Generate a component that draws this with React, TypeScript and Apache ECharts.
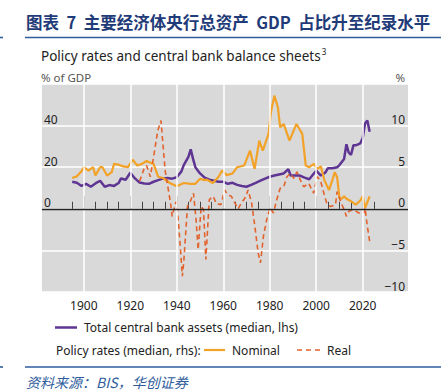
import React, { useEffect, useRef } from "react";
import * as echarts from "echarts";

const FONT = '"Noto Sans", "Open Sans", sans-serif';
const CJK = '"Noto Sans CJK SC", sans-serif';

const titleText = "图表  7  主要经济体央行总资产  GDP  占比升至纪录水平";
const subtitleText = "Policy rates and central bank balance sheets";
const sourceText = "资料来源：BIS，华创证券";

const xLabelYears = [1900, 1920, 1940, 1960, 1980, 2000, 2020];
const minorTickYears = [1895, 1905, 1910, 1915, 1925, 1930, 1935, 1945, 1950, 1955, 1965, 1970, 1975, 1985, 1990, 1995, 2005, 2010, 2015, 2025];
const leftLabels = [0, 20, 40];
const rightLabels = [-10, -5, 0, 5, 10];

const assetYears = [1895, 1897, 1899, 1901, 1903, 1905, 1907, 1909, 1911, 1913, 1915, 1916, 1918, 1920, 1922, 1924, 1926, 1928, 1930, 1932, 1934, 1936, 1938, 1940, 1942, 1943, 1945, 1946, 1947, 1948, 1950, 1952, 1954, 1956, 1958, 1960, 1962, 1964, 1966, 1968, 1970, 1972, 1974, 1976, 1978, 1980, 1982, 1984, 1986, 1988, 1989, 1991, 1993, 1995, 1997, 1999, 2000, 2002, 2004, 2005, 2007, 2009, 2010, 2011, 2012, 2013, 2014, 2015, 2016, 2017, 2018, 2019, 2020, 2021, 2022, 2023];
const assetValues = [13, 12.5, 11, 12, 10.6, 12.2, 13.5, 10.6, 11.4, 11, 12.4, 14.6, 14, 17.3, 14.6, 12.6, 12.2, 12, 13, 13.8, 14.5, 14.8, 14.5, 15.2, 18, 21, 25, 28.6, 24, 20, 17, 15, 14, 13.5, 13, 13, 12, 12.5, 11.5, 11, 10.6, 11.5, 12.5, 13.5, 14.5, 15.4, 16, 16.5, 17, 19, 16, 16, 16, 15, 14.2, 17, 18.3, 16, 17.5, 19.5, 19.5, 20, 21, 22.5, 24, 31, 27, 26, 30.5, 30.5, 31, 31.5, 34, 41, 42.5, 37];

const nominalYears = [1895, 1897, 1899, 1900, 1902, 1904, 1905, 1907, 1908, 1910, 1912, 1913, 1915, 1917, 1919, 1921, 1923, 1925, 1927, 1929, 1930, 1932, 1934, 1937, 1940, 1943, 1946, 1948, 1950, 1952, 1953, 1955.5, 1958, 1959.5, 1961.5, 1964, 1966, 1969, 1971.5, 1973.5, 1975.5, 1977, 1979.5, 1980.5, 1982, 1983.5, 1984.5, 1986, 1988.5, 1991.5, 1994, 1995.5, 1997, 1999, 2000.5, 2002, 2003.5, 2005.5, 2007, 2008, 2009, 2010, 2011, 2012, 2013, 2015, 2017, 2019, 2020, 2021, 2023];
const nominalValues = [3.7, 3.9, 4.5, 5.0, 4.6, 5.0, 4.0, 5.0, 5.0, 4.0, 4.4, 5.4, 5.3, 5.1, 5.0, 5.9, 5.2, 5.4, 5.75, 5.5, 5.4, 3.85, 3.7, 3.1, 2.7, 3.1, 3.0, 3.0, 3.6, 3.45, 3.5, 3.1, 3.85, 4.6, 4.05, 4.25, 5.0, 5.2, 7.0, 4.8, 8.2, 7.0, 9.0, 11.6, 13.6, 12.2, 9.8, 10.2, 8.2, 10.2, 9.0, 5.2, 5.0, 5.4, 4.8, 5.1, 3.45, 2.25, 3.5, 4.4, 3.8, 1.3, 1.2, 1.5, 1.2, 0.9, 0.5, 1.0, 1.5, 0.1, 1.5];

const realYears = [1924, 1925.9, 1927, 1928.6, 1930, 1931.8, 1933.2, 1935, 1937.3, 1938, 1939.5, 1940, 1941.3, 1942.4, 1943, 1944.6, 1945.8, 1947.2, 1948.3, 1949.2, 1950.5, 1951.5, 1952.5, 1954, 1955.7, 1957, 1959, 1960.6, 1962, 1963.5, 1965, 1966.4, 1967.8, 1969.3, 1970.7, 1972.2, 1973.6, 1975, 1976, 1977.3, 1978.7, 1980.2, 1981.6, 1983, 1984.5, 1986, 1987.4, 1988.9, 1990.3, 1991.7, 1993.2, 1994.6, 1996.8, 1998.9, 2000.4, 2001.8, 2003.3, 2004.7, 2006.2, 2008.3, 2009, 2010.5, 2012, 2013, 2014, 2016, 2018.4, 2020.5, 2021, 2022, 2023.2];
const realValues = [3.3, 4.8, 5.2, 3.85, 6.2, 9.4, 10.6, 4.6, 0.7, -0.9, 0.7, 0.87, -3.7, -8.1, -6.4, 0.3, 0.87, 1.87, -1.3, -4.9, 0.3, -0.1, -6.1, 1.1, 1.5, 0.6, 0.5, 2.26, 1.67, 1.5, 0.7, 0.0, 0.7, 1.27, 2.26, 0.7, -2.1, -5.3, -6.5, -3.3, -1.3, 0.1, -0.5, 1.07, 2.46, 2.65, 3.85, 4.25, 3.65, 4.44, 3.45, 2.65, 3.06, 1.87, 3.85, 3.45, 1.87, 0.5, 0.27, 0.5, 2.06, 0.87, -0.1, -0.9, -0.3, -0.1, -0.5, -0.5, 0.1, -2.1, -4.3];

const X_MIN = 1882;
const X_MAX = 2039.5;

const PURPLE = "#5e3592";
const ORANGE = "#f2a227";
const RED = "#e2632d";
const NAVY = "#1f3b78";
const RULE = "#2f5c9c";

const zip = (xs: number[], ys: number[]) => xs.map((x, i) => [x, ys[i]]);
const fmtNum = (v: number) => (v < 0 ? "\u2212" + Math.abs(v) : String(v));

export default function App() {
  const ref = useRef<HTMLDivElement>(null);
  useEffect(() => {
    if (!ref.current) return;
    const chart = echarts.init(ref.current, undefined, { renderer: "svg" });
    const tickStyle = { color: "#444", width: 1 };
    chart.setOption({
      animation: false,
      textStyle: { fontFamily: FONT },
      grid: {
        left: 42,
        top: 84,
        width: 366,
        height: 208,
        show: true,
        backgroundColor: "#d9d9d9",
        borderWidth: 0,
        containLabel: false,
        outerBoundsMode: "none",
      },
      xAxis: [
        {
          type: "value",
          min: X_MIN,
          max: X_MAX,
          position: "bottom",
          axisLine: { show: false },
          axisTick: { show: true, inside: true, length: 13, customValues: xLabelYears, lineStyle: tickStyle },
          axisLabel: { customValues: xLabelYears, color: "#222", fontSize: 12, margin: 7, fontFamily: FONT, formatter: (v: number) => String(v) },
          splitLine: { show: false },
        },
        {
          type: "value",
          min: X_MIN,
          max: X_MAX,
          position: "bottom",
          axisLine: { show: false },
          axisTick: { show: true, inside: true, length: 7, customValues: minorTickYears, lineStyle: tickStyle },
          axisLabel: { show: false },
          splitLine: { show: false },
        },
      ],
      yAxis: [
        {
          type: "value",
          min: -40,
          max: 60,
          interval: 20,
          position: "left",
          axisLine: { show: false },
          axisTick: { show: false },
          splitLine: { show: true, lineStyle: { color: "#ffffff", width: 1.5 } },
          axisLabel: {
            inside: true,
            margin: 2,
            verticalAlign: "bottom",
            color: "#222",
            fontSize: 12,
            fontFamily: FONT,
            formatter: (v: number) => (leftLabels.includes(v) ? fmtNum(v) : ""),
          },
        },
        {
          type: "value",
          min: -10,
          max: 15,
          interval: 5,
          position: "right",
          axisLine: { show: false },
          axisTick: { show: false },
          splitLine: { show: false },
          axisLabel: {
            inside: true,
            margin: 3,
            verticalAlign: "bottom",
            color: "#222",
            fontSize: 12,
            fontFamily: FONT,
            formatter: (v: number) => (rightLabels.includes(v) ? fmtNum(v) : ""),
          },
        },
      ],
      series: [
        {
          type: "line",
          name: "gridlines",
          xAxisIndex: 0,
          yAxisIndex: 0,
          z: 1,
          silent: true,
          showSymbol: false,
          data: [[X_MIN, -40]],
          lineStyle: { opacity: 0 },
          markLine: {
            silent: true,
            symbol: "none",
            label: { show: false },
            data: [
              ...xLabelYears.map((y) => ({ xAxis: y, lineStyle: { color: "#ffffff", width: 1.5, type: "solid" } })),
              [
                { coord: [X_MIN, 0], lineStyle: { color: "#222", width: 1.3, type: "solid" } },
                { coord: [X_MAX, 0] },
              ],
            ],
          },
        },
        {
          type: "line",
          name: "Total central bank assets (median, lhs)",
          xAxisIndex: 0,
          yAxisIndex: 0,
          z: 3,
          showSymbol: false,
          data: zip(assetYears, assetValues),
          lineStyle: { color: PURPLE, width: 2.5 },
          itemStyle: { color: PURPLE },
        },
        {
          type: "line",
          name: "Nominal",
          xAxisIndex: 0,
          yAxisIndex: 1,
          z: 3,
          showSymbol: false,
          data: zip(nominalYears, nominalValues),
          lineStyle: { color: ORANGE, width: 2.2 },
          itemStyle: { color: ORANGE },
        },
        {
          type: "line",
          name: "Real",
          xAxisIndex: 0,
          yAxisIndex: 1,
          z: 3,
          showSymbol: false,
          data: zip(realYears, realValues),
          lineStyle: { color: RED, width: 1.6, type: [5, 3.5] },
          itemStyle: { color: RED },
        },
      ],
      graphic: [
        { type: "text", x: 26, y: 22, style: { text: titleText, fill: NAVY, fontSize: 16.5, fontWeight: "bold", fontFamily: CJK, verticalAlign: "middle", align: "left" } },
        { type: "line", shape: { x1: 25, y1: 37.5, x2: 441, y2: 37.5 }, style: { stroke: RULE, lineWidth: 1.6 } },
        { type: "line", shape: { x1: 0, y1: 37.5, x2: 3, y2: 37.5 }, style: { stroke: RULE, lineWidth: 1.6 } },
        {
          type: "text",
          x: 41,
          y: 56,
          style: {
            text: "{m|" + subtitleText + "}{s|3}",
            fill: "#222",
            fontFamily: FONT,
            verticalAlign: "middle",
            align: "left",
            rich: {
              m: { fontSize: 13.5, fontFamily: FONT, fill: "#222", lineHeight: 18 },
              s: { fontSize: 8, fontFamily: FONT, fill: "#222", verticalAlign: "top", lineHeight: 18, padding: [0, 0, 0, 1] },
            },
          },
        },
        { type: "text", x: 41, y: 77, style: { text: "% of GDP", fill: "#555", fontSize: 11.5, fontFamily: FONT, verticalAlign: "middle", align: "left" } },
        { type: "text", x: 405, y: 77, style: { text: "%", fill: "#555", fontSize: 11.5, fontFamily: FONT, verticalAlign: "middle", align: "right" } },
        { type: "line", shape: { x1: 55, y1: 327.5, x2: 77, y2: 327.5 }, style: { stroke: PURPLE, lineWidth: 2.5 } },
        { type: "text", x: 84, y: 327.5, style: { text: "Total central bank assets (median, lhs)", fill: "#222", fontSize: 12, fontFamily: FONT, verticalAlign: "middle", align: "left" } },
        { type: "text", x: 56, y: 350, style: { text: "Policy rates (median, rhs):", fill: "#222", fontSize: 12, fontFamily: FONT, verticalAlign: "middle", align: "left" } },
        { type: "line", shape: { x1: 204, y1: 350, x2: 225, y2: 350 }, style: { stroke: ORANGE, lineWidth: 2.2 } },
        { type: "text", x: 232, y: 350, style: { text: "Nominal", fill: "#222", fontSize: 12, fontFamily: FONT, verticalAlign: "middle", align: "left" } },
        { type: "line", shape: { x1: 297, y1: 350, x2: 320, y2: 350 }, style: { stroke: RED, lineWidth: 1.6, lineDash: [5, 4] } },
        { type: "text", x: 327, y: 350, style: { text: "Real", fill: "#222", fontSize: 12, fontFamily: FONT, verticalAlign: "middle", align: "left" } },
        { type: "line", shape: { x1: 25, y1: 367, x2: 441, y2: 367 }, style: { stroke: RULE, lineWidth: 1.6 } },
        { type: "line", shape: { x1: 0, y1: 367, x2: 3, y2: 367 }, style: { stroke: RULE, lineWidth: 1.6 } },
        { type: "text", x: 26, y: 382, style: { text: sourceText, fill: RULE, fontSize: 14, fontStyle: "italic", fontFamily: CJK, verticalAlign: "middle", align: "left" } },
      ],
    });
    return () => chart.dispose();
  }, []);
  return <div ref={ref} style={{ width: 441, height: 391, position: "absolute", left: 0, top: 0 }} />;
}
